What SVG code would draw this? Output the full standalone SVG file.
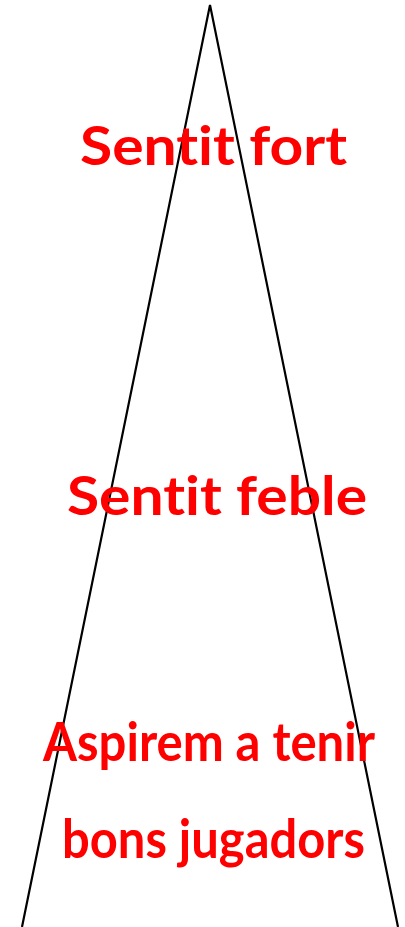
<svg xmlns="http://www.w3.org/2000/svg" width="405" height="927" viewBox="0 0 405 927">
<style>
.t{font-family:Lato,"Open Sans","Liberation Sans",sans-serif;font-weight:bold;font-size:54px;fill:#ff0000;font-variant-ligatures:none;font-feature-settings:"liga" 0,"dlig" 0}
.l{stroke:#000;stroke-width:2.2;fill:none}
</style>
<rect width="405" height="927" fill="#fff"/>
<g id="triangle"><polyline class="l" points="22,927 210,5 398,927"/></g>
<g id="labels">
<text class="t" x="80" y="165" textLength="267" lengthAdjust="spacingAndGlyphs">Sentit fort</text>
<text class="t" x="67" y="515" textLength="300" lengthAdjust="spacingAndGlyphs">Sentit feble</text>
<text class="t" x="43" y="761" textLength="332" lengthAdjust="spacingAndGlyphs">Aspirem a tenir</text>
<text class="t" x="62" y="858" textLength="303" lengthAdjust="spacingAndGlyphs">bons jugadors</text>
</g>
</svg>
